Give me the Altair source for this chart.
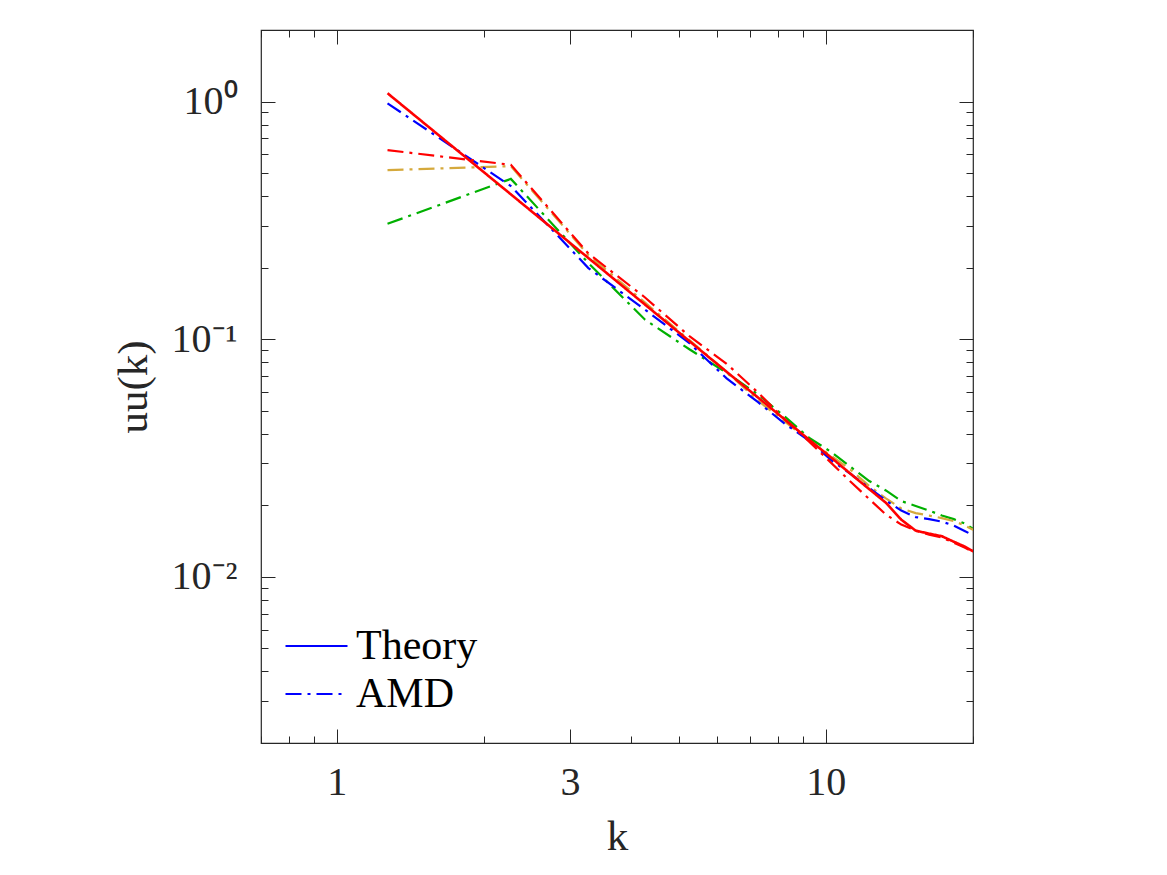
import altair as alt
import pandas as pd

# Wavenumbers (shell centres) and spectra of each run
k = [1.27, 2.27, 3.27, 4.27, 5.27, 6.27, 7.27, 8.27, 9.27, 10.27,
     11.27, 12.27, 13.27, 14.27, 15.27, 16.27, 17.27, 18.27, 19.27, 20.27]

theory = [1.084, 0.407, 0.2196, 0.1398, 0.0979, 0.0729, 0.0568, 0.0457, 0.0376, 0.0317,
          0.0270, 0.0234, 0.0205, 0.0174, 0.01565, 0.0152, 0.01483, 0.01406, 0.01339, 0.01263]
amd_blue = [0.983, 0.441, 0.1992, 0.1331, 0.0960, 0.0684, 0.0543, 0.0439, 0.0373, 0.0309,
            0.0270, 0.02367, 0.02096, 0.01901, 0.01785, 0.0175, 0.01708, 0.01643, 0.01557, 0.01476]
amd_red = [0.6249, 0.5416, 0.2294, 0.1498, 0.1027, 0.0788, 0.0596, 0.0457, 0.0369, 0.0301,
           0.0250, 0.02125, 0.0183, 0.0166, 0.01565, 0.01506, 0.01464, 0.01393, 0.01326, 0.01251]
amd_green = [0.3058, 0.4726, 0.2091, 0.1208, 0.0905, 0.0722, 0.0585, 0.0470, 0.0383, 0.0335,
             0.0289, 0.0253, 0.0231, 0.02085, 0.01987, 0.01901, 0.01811, 0.0175, 0.01675, 0.01565]
amd_gold = [0.5143, 0.5347, 0.2261, 0.1426, 0.0989, 0.0729, 0.0551, 0.0448, 0.0372, 0.0323,
            0.0281, 0.0241, 0.0214, 0.01939, 0.01855, 0.01811, 0.01768, 0.01717, 0.01643, 0.01557]

# Tick positions
x_major = [1, 3, 10]
x_minor = [0.7, 0.8, 0.9, 2, 4, 5, 6, 7, 8, 9, 20]
y_major = [0.01, 0.1, 1]
y_minor = [0.002, 0.003, 0.004, 0.005, 0.006, 0.007, 0.008, 0.009,
           0.02, 0.03, 0.04, 0.05, 0.06, 0.07, 0.08, 0.09,
           0.2, 0.3, 0.4, 0.5, 0.6, 0.7, 0.8, 0.9, 2]

legend_names = ["Theory", "AMD"]

FONT = "Liberation Serif"
INK = "#262626"
DASHDOT = [16, 6, 3, 6]
W, H = 712, 713

xs = alt.Scale(type="log", domain=[0.7, 20], nice=False)
ys = alt.Scale(type="log", domain=[0.002, 2], nice=False)


def frame(data):
    return pd.DataFrame({"k": k, "uu": data})


def tick_axis(orient, values, size):
    # inward-pointing ticks: pull the axis inside the frame by its tick length
    return alt.Axis(orient=orient, values=values, tickSize=size, offset=-size,
                    domain=False, grid=False, labels=False, tickColor=INK, tickWidth=1)


x_label_axis = alt.Axis(orient="bottom", values=x_major, tickSize=14, offset=-14,
                        domain=False, grid=False, tickColor=INK, tickWidth=1,
                        labelFont=FONT, labelFontSize=40, labelColor=INK, labelPadding=19,
                        labelExpr="format(datum.value, '~g')",
                        titleFont=FONT, titleFontSize=43, titleColor=INK,
                        titleFontWeight="normal", titlePadding=13)
y_label_axis = alt.Axis(orient="left", values=y_major, tickSize=14, offset=-14,
                        domain=False, grid=False, tickColor=INK, tickWidth=1,
                        labelFont=FONT, labelFontSize=40, labelColor=INK, labelPadding=24,
                        labelExpr="datum.value == 1 ? '10⁰' : datum.value == 0.1 ? '10⁻¹' : '10⁻²'",
                        titleFont=FONT, titleFontSize=43, titleColor=INK,
                        titleFontWeight="normal", titlePadding=16)


def run_line(data, color, dash, width, xaxis, yaxis, xtitle="", ytitle=""):
    mark = alt.Chart(frame(data)).mark_line(color=color, strokeWidth=width, clip=True,
                                            strokeDash=dash)
    x_kw = dict(scale=xs, title=xtitle)
    y_kw = dict(scale=ys, title=ytitle)
    if xaxis is None:
        x_kw["axis"] = None
        y_kw["axis"] = None
    else:
        x_kw["axis"] = xaxis
        y_kw["axis"] = yaxis
    return mark.encode(x=alt.X("k:Q", **x_kw), y=alt.Y("uu:Q", **y_kw))


green = run_line(amd_green, "#00b000", DASHDOT, 2.2, x_label_axis, y_label_axis,
                 xtitle="k", ytitle="uu(k)")
gold = run_line(amd_gold, "#d5a93c", DASHDOT, 2.2,
                tick_axis("bottom", x_minor, 7), tick_axis("left", y_minor, 7))
blue = run_line(amd_blue, "#0000ff", DASHDOT, 2.2,
                tick_axis("top", x_major, 14), tick_axis("right", y_major, 14))
red_dd = run_line(amd_red, "#ff0000", DASHDOT, 2.2,
                  tick_axis("top", x_minor, 7), tick_axis("right", y_minor, 7))
red_solid = run_line(theory, "#ff0000", [1, 0], 2.6, None, None)

# A wide, flat legend sample: the path spans twice the symbol's nominal width,
# so rows stay as tall as the labels instead of the line length.
leg = alt.Legend(title=None, orient="none", legendX=34.5, legendY=595,
                 symbolType="M-2,0H2", symbolSize=961, symbolStrokeWidth=2,
                 labelFont=FONT, labelFontSize=42, labelColor="black",
                 labelOffset=18.5, rowPadding=6)
legend_layer = alt.Chart(pd.DataFrame({"label": legend_names, "k": [1, 1], "uu": [1, 1]})) \
    .transform_filter("false") \
    .mark_line() \
    .encode(
        x=alt.X("k:Q", scale=xs, axis=None),
        y=alt.Y("uu:Q", scale=ys, axis=None),
        color=alt.Color("label:N", scale=alt.Scale(domain=legend_names,
                                                    range=["#0000ff", "#0000ff"]), legend=leg),
        strokeDash=alt.StrokeDash("label:N", scale=alt.Scale(domain=legend_names,
                                                             range=[[1, 0], DASHDOT]), legend=leg),
    )

chart = alt.layer(green, gold, blue, red_dd, red_solid, legend_layer) \
    .resolve_axis(x="independent", y="independent") \
    .properties(width=W, height=H, autosize="none",
                padding={"left": 261, "top": 30, "right": 194, "bottom": 132},
                background="white") \
    .configure_view(stroke=INK, strokeWidth=1.2)

chart.save("out.html", embed_options={"renderer": "svg", "actions": False})
